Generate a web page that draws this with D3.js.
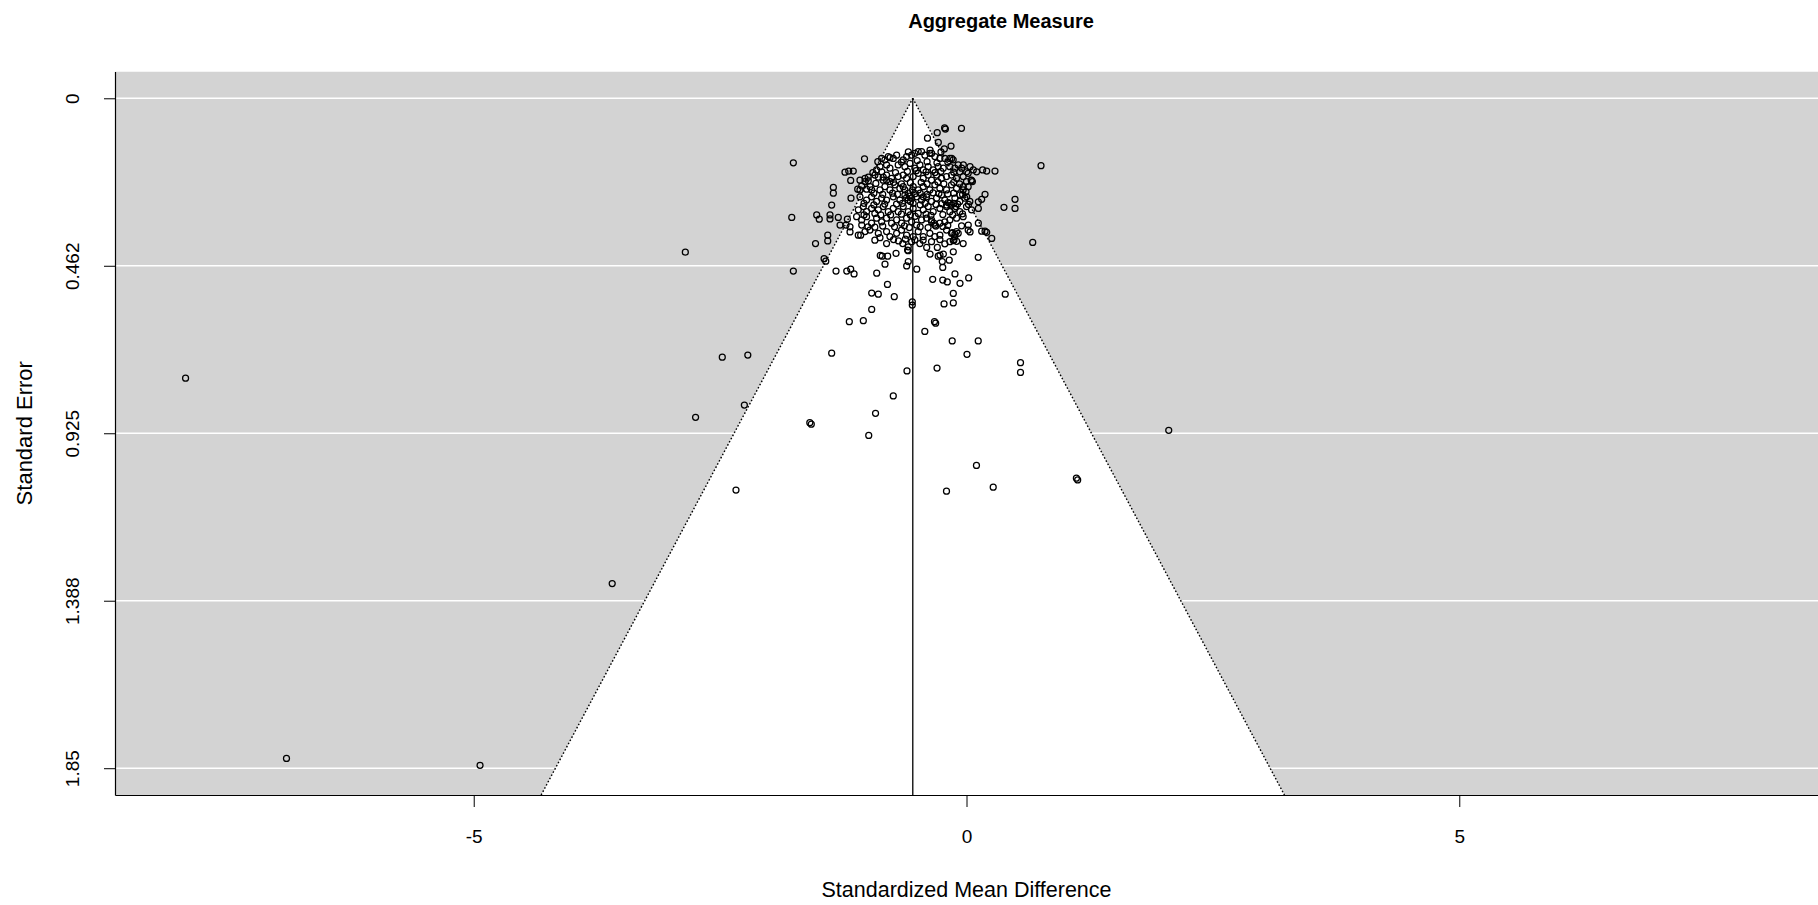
<!DOCTYPE html>
<html>
<head>
<meta charset="utf-8">
<script src="https://cdn.jsdelivr.net/npm/d3@7"></script>
<style>
  body { margin: 0; background: #ffffff; }
  text { font-family: "Liberation Sans", Arial, sans-serif; fill: #000; }
</style>
</head>
<body>
<svg id="chart" width="1818" height="905"></svg>
<script>
// ---- data -------------------------------------------------------------
const chartTitle = "Aggregate Measure";
const xAxisTitle = "Standardized Mean Difference";
const yAxisTitle = "Standard Error";

// pooled standardized mean difference (centre of the funnel)
const pooledEstimate = -0.545;

const xTickValues = [-5, 0, 5];
const seTickValues = [0, 0.4625, 0.925, 1.3875, 1.85];
const seTickLabels = ["0", "0.462", "0.925", "1.388", "1.85"];

// each study: [standardized mean difference, standard error]
const studyPoints = [
  // studies away from the main cluster
  [-7.924, 0.773], [-6.900, 1.823], [-4.936, 1.842], [-3.595, 1.340], [-2.853, 0.425],
  [-2.749, 0.881], [-2.478, 0.715], [-2.219, 0.709], [-2.254, 0.847], [-2.339, 1.082],
  [-1.590, 0.896], [-1.575, 0.900], [-1.368, 0.704], [-0.992, 0.931], [-0.923, 0.870],
  [-0.743, 0.822], [-0.604, 0.753], [-0.299, 0.745], [-0.203, 1.085], [0.101, 1.014],
  [0.271, 1.074], [1.115, 1.049], [1.128, 1.054], [2.052, 0.917], [0.548, 0.730],
  [0.548, 0.757], [0.119, 0.670], [0.005, 0.707], [-0.145, 0.670], [-0.325, 0.617],
  [-0.313, 0.621], [-0.423, 0.644], [-1.189, 0.617], [-1.047, 0.614], [-0.962, 0.583],
  [-0.962, 0.538], [-0.895, 0.541], [-0.733, 0.548], [-0.550, 0.562], [-0.550, 0.571],
  [-0.134, 0.539], [-0.134, 0.565], [-0.228, 0.568], [0.393, 0.541], [0.672, 0.398],
  [0.119, 0.439], [-0.802, 0.514], [-1.757, 0.477], [-1.324, 0.477], [-1.215, 0.477],
  [-1.175, 0.472], [-1.141, 0.485], [-0.911, 0.483], [-1.445, 0.443], [-1.428, 0.450],
  [-0.875, 0.434], [-0.855, 0.436], [-0.800, 0.436], [-0.715, 0.428], [-0.827, 0.458],
  [-0.607, 0.463], [-0.591, 0.451], [-0.591, 0.421], [-0.505, 0.472], [-0.343, 0.500],
  [-0.241, 0.502], [-0.195, 0.507], [-0.066, 0.511], [0.022, 0.496], [-0.117, 0.485],
  [-0.241, 0.467], [-0.246, 0.451], [-0.269, 0.433], [-0.235, 0.430], [-0.175, 0.447],
  [-0.134, 0.424], [-0.127, 0.391], [-0.370, 0.430], [-0.404, 0.412], [-0.296, 0.412],
  [-0.647, 0.401], [-1.098, 0.378], [-1.074, 0.378], [-1.408, 0.378], [-1.408, 0.394],
  [-1.532, 0.401], [-1.773, 0.329], [-1.520, 0.322], [-1.494, 0.334], [-1.385, 0.322],
  [-1.385, 0.333], [-1.301, 0.329], [-1.209, 0.334], [-1.223, 0.350], [-1.283, 0.350],
  [-1.182, 0.355], [-1.182, 0.369], [-1.063, 0.350], [-1.368, 0.295], [-1.172, 0.276],
  [-1.351, 0.246], [-1.351, 0.262], [-1.175, 0.227], [-1.233, 0.204], [-1.195, 0.201],
  [-1.149, 0.201], [-1.035, 0.167], [-1.757, 0.178], [0.756, 0.186], [-0.051, 0.083],
  [-0.222, 0.082], [-0.214, 0.085], [-0.297, 0.095], [-0.396, 0.110], [-0.286, 0.122],
  [-0.157, 0.132], [-0.225, 0.140], [-0.259, 0.148], [-0.370, 0.143], [-0.353, 0.152],
  [-0.150, 0.166], [0.289, 0.201], [0.205, 0.201], [0.164, 0.198], [0.103, 0.203],
  [0.069, 0.198], [0.036, 0.189], [-0.032, 0.184], [-0.049, 0.193], [0.002, 0.203],
  [0.048, 0.226], [0.060, 0.230], [0.188, 0.265], [0.154, 0.279], [0.120, 0.286],
  [0.492, 0.279], [0.492, 0.304], [0.380, 0.301], [0.120, 0.304], [0.120, 0.345],
  [0.018, 0.350], [0.036, 0.369], [0.154, 0.367], [0.188, 0.367], [0.205, 0.370],
  [0.256, 0.387], [-0.134, 0.393],
  // main cluster near the top of the funnel
  [-0.861, 0.166], [-0.828, 0.170], [-0.794, 0.161], [-0.743, 0.166], [-0.709, 0.157],
  [-0.642, 0.170], [-0.608, 0.161], [-0.557, 0.157], [-0.524, 0.152], [-0.490, 0.147],
  [-0.456, 0.147], [-0.422, 0.157], [-0.372, 0.152], [-0.321, 0.161], [-0.270, 0.166],
  [-0.220, 0.166], [-0.169, 0.166], [-0.135, 0.170], [-0.776, 0.164], [-0.590, 0.148],
  [-0.912, 0.198], [-0.878, 0.189], [-0.811, 0.184], [-0.777, 0.193], [-0.693, 0.184],
  [-0.625, 0.189], [-0.574, 0.180], [-0.524, 0.193], [-0.473, 0.184], [-0.439, 0.198],
  [-0.389, 0.189], [-0.338, 0.198], [-0.287, 0.189], [-0.236, 0.193], [-0.169, 0.189],
  [-0.118, 0.193], [-0.084, 0.184],
  [-1.081, 0.226], [-1.030, 0.221], [-0.997, 0.218], [-0.929, 0.212], [-0.895, 0.218],
  [-0.845, 0.226], [-0.811, 0.212], [-0.760, 0.221], [-0.693, 0.216], [-0.642, 0.212],
  [-0.608, 0.221], [-0.541, 0.216], [-0.490, 0.207], [-0.439, 0.221], [-0.389, 0.212],
  [-0.355, 0.226], [-0.304, 0.212], [-0.253, 0.221], [-0.203, 0.216], [-0.152, 0.212],
  [-0.101, 0.221], [-0.034, 0.216], [0.017, 0.207],
  [-0.878, 0.253], [-0.828, 0.244], [-0.777, 0.253], [-0.726, 0.239], [-0.676, 0.249],
  [-0.625, 0.253], [-0.591, 0.262], [-0.541, 0.244], [-0.490, 0.253], [-0.439, 0.244],
  [-0.372, 0.253], [-0.321, 0.239], [-0.270, 0.249], [-0.203, 0.253], [-0.152, 0.239],
  [-0.101, 0.249], [-0.034, 0.253], [0.017, 0.244],
  [-1.104, 0.251], [-1.063, 0.242], [-1.030, 0.230], [-0.996, 0.228], [-0.979, 0.244],
  [-0.962, 0.253], [-1.013, 0.251], [-1.081, 0.253],
  [-0.032, 0.244], [-0.005, 0.258], [-0.066, 0.267], [0.002, 0.272],
  [-1.081, 0.272], [-1.014, 0.281], [-0.963, 0.272], [-0.912, 0.285], [-0.861, 0.276],
  [-0.811, 0.281], [-0.743, 0.272], [-0.676, 0.281], [-0.625, 0.267], [-0.591, 0.281],
  [-0.541, 0.290], [-0.507, 0.272], [-0.456, 0.281], [-0.405, 0.272], [-0.355, 0.285],
  [-0.304, 0.276], [-0.253, 0.267], [-0.220, 0.281], [-0.169, 0.290], [-0.118, 0.276],
  [-0.068, 0.285], [-0.017, 0.276], [0.034, 0.285],
  [-1.098, 0.308], [-1.047, 0.299], [-1.014, 0.313], [-0.963, 0.304], [-0.895, 0.308],
  [-0.845, 0.299], [-0.794, 0.313], [-0.743, 0.304], [-0.693, 0.313], [-0.642, 0.299],
  [-0.591, 0.313], [-0.541, 0.304], [-0.490, 0.318], [-0.439, 0.308], [-0.389, 0.299],
  [-0.338, 0.313], [-0.270, 0.304], [-0.203, 0.299], [-0.169, 0.313], [-0.118, 0.304],
  [-0.068, 0.313], [0.000, 0.299], [0.051, 0.308],
  [-1.115, 0.327], [-1.064, 0.336], [-1.014, 0.327], [-0.963, 0.345], [-0.912, 0.331],
  [-0.861, 0.341], [-0.811, 0.331], [-0.760, 0.345], [-0.709, 0.336], [-0.659, 0.345],
  [-0.608, 0.331], [-0.557, 0.341], [-0.507, 0.350], [-0.456, 0.336], [-0.405, 0.331],
  [-0.355, 0.341], [-0.321, 0.350], [-0.270, 0.345], [-0.220, 0.341], [-0.169, 0.336],
  [-0.101, 0.331], [-0.034, 0.327],
  [-1.030, 0.368], [-0.980, 0.364], [-0.895, 0.373], [-0.878, 0.385], [-0.811, 0.368],
  [-0.777, 0.382], [-0.709, 0.373], [-0.659, 0.364], [-0.608, 0.378], [-0.541, 0.382],
  [-0.490, 0.368], [-0.439, 0.382], [-0.372, 0.373], [-0.321, 0.382], [-0.270, 0.378],
  [-0.203, 0.364], [-0.152, 0.373], [-0.118, 0.382], [-0.084, 0.373], [0.017, 0.364],
  [-0.811, 0.401], [-0.591, 0.410], [-0.557, 0.396], [-0.524, 0.391], [-0.473, 0.401],
  [-0.355, 0.396], [-0.220, 0.402], [-0.169, 0.396], [-0.034, 0.401],
  [-0.598, 0.419], [-0.287, 0.436],
  [-0.581, 0.270], [-0.557, 0.276], [-0.568, 0.285], [-0.608, 0.274], [-0.186, 0.288],
  [-0.152, 0.295], [-0.128, 0.290], [-0.108, 0.299], [-0.203, 0.295], [-0.355, 0.336],
  [-0.331, 0.345], [-0.311, 0.353], [-0.845, 0.218], [-0.811, 0.226], [-0.547, 0.253],
  [0.000, 0.230], [0.051, 0.227], [-0.068, 0.203], [-0.777, 0.230], [-0.439, 0.272],
  [-0.642, 0.244], [-0.142, 0.371], [-0.118, 0.375], [-0.101, 0.368],
  [-0.90, 0.175], [-0.66, 0.176], [-0.50, 0.172], [-0.40, 0.175], [-0.30, 0.178],
  [-0.19, 0.176],
  [-0.95, 0.205], [-0.86, 0.203], [-0.72, 0.205], [-0.60, 0.202], [-0.51, 0.200],
  [-0.41, 0.203], [-0.32, 0.205], [-0.26, 0.202], [-0.13, 0.204],
  [-0.92, 0.235], [-0.74, 0.232], [-0.66, 0.236], [-0.57, 0.233], [-0.46, 0.232],
  [-0.40, 0.236], [-0.29, 0.231], [-0.23, 0.236], [-0.13, 0.232], [-0.07, 0.236],
  [-0.94, 0.262], [-0.85, 0.265], [-0.75, 0.262], [-0.70, 0.265], [-0.52, 0.263],
  [-0.47, 0.262], [-0.40, 0.265], [-0.34, 0.261], [-0.28, 0.263], [-0.19, 0.264],
  [-0.13, 0.262], [-0.04, 0.266],
  [-1.04, 0.290], [-0.94, 0.294], [-0.83, 0.292], [-0.71, 0.292], [-0.65, 0.290],
  [-0.47, 0.294], [-0.42, 0.290], [-0.31, 0.293], [-0.25, 0.291], [-0.09, 0.292],
  [0.02, 0.293],
  [-1.04, 0.322], [-0.93, 0.318], [-0.87, 0.322], [-0.77, 0.322], [-0.66, 0.320],
  [-0.57, 0.322], [-0.52, 0.326], [-0.41, 0.320], [-0.36, 0.323], [-0.24, 0.321],
  [-0.14, 0.322], [-0.04, 0.319],
  [-1.00, 0.355], [-0.93, 0.356], [-0.85, 0.353], [-0.73, 0.355], [-0.63, 0.352],
  [-0.58, 0.357], [-0.47, 0.355], [-0.39, 0.357], [-0.24, 0.354], [-0.19, 0.351],
  [-0.05, 0.352],
  [-0.93, 0.392], [-0.74, 0.390], [-0.69, 0.394], [-0.62, 0.389], [-0.44, 0.392],
  [-0.27, 0.390], [-0.10, 0.395]
];

// ---- layout -----------------------------------------------------------
const svg = d3.select("#chart");
const plot = { left: 115, right: 1818, top: 71.5, bottom: 795 };

const x = d3.scaleLinear().domain([-8.64, 8.64]).range([plot.left, plot.right]);
const y = d3.scaleLinear().domain([-0.074, 1.924]).range([plot.top, plot.bottom]);

svg.append("defs").append("clipPath").attr("id", "plot-clip")
  .append("rect")
  .attr("x", plot.left).attr("y", plot.top)
  .attr("width", plot.right - plot.left).attr("height", plot.bottom - plot.top);

const panel = svg.append("g").attr("clip-path", "url(#plot-clip)");

// grey background
panel.append("rect")
  .attr("x", plot.left).attr("y", plot.top)
  .attr("width", plot.right - plot.left).attr("height", plot.bottom - plot.top)
  .attr("fill", "#d3d3d3");

// horizontal reference lines at the standard error ticks
panel.selectAll("line.se-grid").data(seTickValues).join("line")
  .attr("class", "se-grid")
  .attr("x1", plot.left).attr("x2", plot.right)
  .attr("y1", d => y(d)).attr("y2", d => y(d))
  .attr("stroke", "#ffffff").attr("stroke-width", 1.6);

// pseudo confidence region: estimate +/- 1.96 * SE
const seBottom = y.domain()[1];
const funnel = [
  [pooledEstimate - 1.96 * seBottom, seBottom],
  [pooledEstimate, 0],
  [pooledEstimate + 1.96 * seBottom, seBottom]
];
panel.append("polygon")
  .attr("points", funnel.map(p => [x(p[0]), y(p[1])].join(",")).join(" "))
  .attr("fill", "#ffffff");

const edge = d3.line().x(p => x(p[0])).y(p => y(p[1]));
[[funnel[0], funnel[1]], [funnel[1], funnel[2]]].forEach(seg => {
  panel.append("path")
    .attr("d", edge(seg))
    .attr("fill", "none").attr("stroke", "#000").attr("stroke-width", 1.4)
    .attr("stroke-dasharray", "1.6,2");
});

// vertical line at the pooled estimate
panel.append("line")
  .attr("x1", x(pooledEstimate)).attr("x2", x(pooledEstimate))
  .attr("y1", y(0)).attr("y2", y(seBottom))
  .attr("stroke", "#000").attr("stroke-width", 1.3);

// studies
panel.selectAll("circle.study").data(studyPoints).join("circle")
  .attr("class", "study")
  .attr("cx", d => x(d[0]))
  .attr("cy", d => y(d[1]))
  .attr("r", 3)
  .attr("fill", "none")
  .attr("stroke", "#000")
  .attr("stroke-width", 1.25);

// ---- axes -------------------------------------------------------------
const xAxis = d3.axisBottom(x).tickValues(xTickValues).tickSize(12).tickSizeOuter(0)
  .tickFormat(d3.format("d"));
const gx = svg.append("g").attr("transform", `translate(0,${plot.bottom})`).call(xAxis);
gx.select(".domain").attr("stroke", "#000").attr("stroke-width", 1.2);
gx.selectAll(".tick line").attr("stroke", "#000");
gx.selectAll(".tick text")
  .attr("y", 48).attr("dy", 0)
  .style("font-size", "19px")
  .style("font-family", "'Liberation Sans', Arial, sans-serif")
  .text(d => d < 0 ? "-" + Math.abs(d) : String(d));

const yAxis = d3.axisLeft(y).tickValues(seTickValues).tickSize(11).tickSizeOuter(0)
  .tickFormat((d, i) => seTickLabels[i]);
const gy = svg.append("g").attr("transform", `translate(${plot.left},0)`).call(yAxis);
gy.select(".domain").attr("stroke", "#000").attr("stroke-width", 1.2);
gy.selectAll(".tick line").attr("stroke", "#000");
gy.selectAll(".tick text")
  .attr("x", null).attr("dy", null)
  .attr("text-anchor", "middle")
  .attr("transform", "translate(-36,0) rotate(-90)")
  .attr("y", 0)
  .style("font-size", "19px")
  .style("font-family", "'Liberation Sans', Arial, sans-serif");

// ---- titles -----------------------------------------------------------
svg.append("text")
  .attr("x", 1001).attr("y", 28)
  .attr("text-anchor", "middle")
  .style("font-size", "20px").style("font-weight", "bold")
  .text(chartTitle);

svg.append("text")
  .attr("x", (plot.left + plot.right) / 2).attr("y", 897)
  .attr("text-anchor", "middle")
  .style("font-size", "21.5px")
  .text(xAxisTitle);

svg.append("text")
  .attr("transform", `translate(32,${(plot.top + plot.bottom) / 2}) rotate(-90)`)
  .attr("text-anchor", "middle")
  .style("font-size", "22px")
  .text(yAxisTitle);
</script>
</body>
</html>
